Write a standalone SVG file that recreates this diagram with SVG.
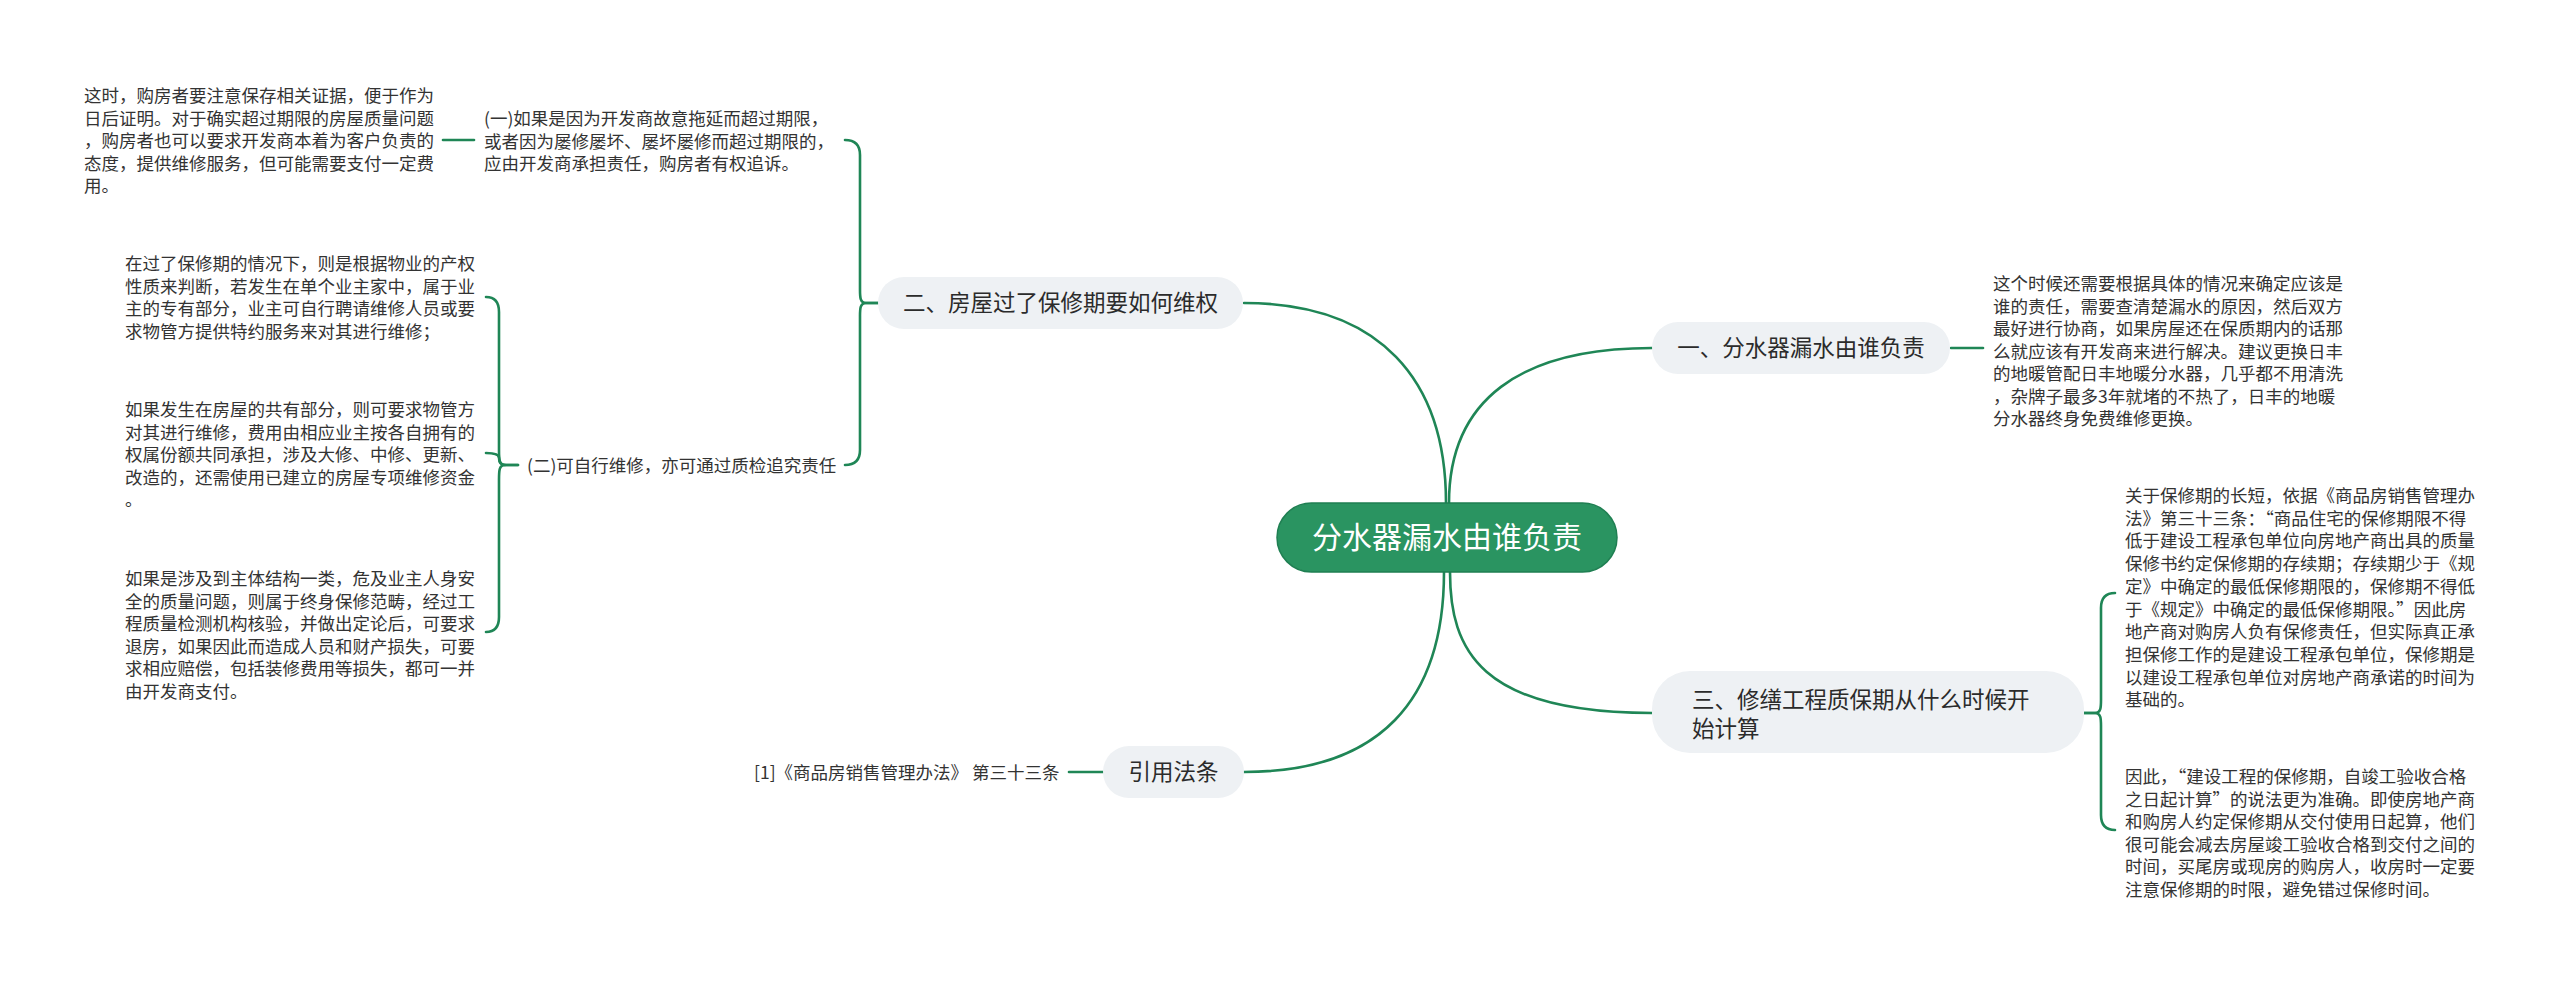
<svg xmlns="http://www.w3.org/2000/svg" width="2560" height="981" viewBox="0 0 2560 981">
<style>
text{font-family:"Noto Sans CJK SC","Noto Sans",sans-serif;fill:#333333}
.leaf{font-size:17.5px}
.branch{font-size:22.5px;fill:#2b2b2b}
.root{font-size:30px;fill:#ffffff}
.bnode{fill:#eef1f4}
.conn path{fill:none;stroke:#1f8656;stroke-width:2.6;stroke-linecap:round}
</style>
<rect width="2560" height="981" fill="#ffffff"/>
<g id="connectors" class="conn">
<path d="M1446,503 C1446,380 1380,303 1244,303"/>
<path d="M1449,503 C1449,400 1520,348 1652,348"/>
<path d="M1444,572 C1444,700 1380,772 1244,772"/>
<path d="M1450,572 C1450,650 1480,713 1652,713"/>
<path d="M1951,348 L1983,348"/>
<path d="M2084,713 L2095,713 C2101,713 2101,707 2101,700 L2101,608 C2101,598 2106,593 2115,593"/>
<path d="M2084,713 L2095,713 C2101,713 2101,719 2101,726 L2101,815 C2101,825 2106,830 2115,830"/>
<path d="M878,303 L866,303 C860,303 860,297 860,290 L860,155 C860,145 855,140 845,140"/>
<path d="M878,303 L866,303 C860,303 860,309 860,316 L860,450 C860,460 855,465 845,465"/>
<path d="M474,140 L443,140"/>
<path d="M518,465 L505,465 C499,465 499,459 499,450 L499,312 C499,302 495,297 486,297"/>
<path d="M518,465 L505,465 C499,465 499,471 499,480 L499,617 C499,627 495,632 486,632"/>
<path d="M505,465 C499,465 499,460 499,458 C499,455 495,453 486,453"/>
<path d="M1103,772 L1069,772"/>
</g>
<g id="root">
<rect x="1277" y="503" width="340" height="69" rx="34.5" fill="#2a9461" stroke="#1f7f52" stroke-width="1.5"/>
<text class="root" x="1447" y="548" text-anchor="middle">分水器漏水由谁负责</text>
</g>
<g id="b1">
<rect class="bnode" x="1652" y="322" width="298" height="52" rx="26"/>
<text class="branch" x="1801" y="356" text-anchor="middle">一、分水器漏水由谁负责</text>
</g>
<g id="b1-leaf">
<text class="leaf" x="1993" y="290"><tspan x="1993">这个时候还需要根据具体的情况来确定应该是</tspan><tspan x="1993" dy="22.5">谁的责任，需要查清楚漏水的原因，然后双方</tspan><tspan x="1993" dy="22.5">最好进行协商，如果房屋还在保质期内的话那</tspan><tspan x="1993" dy="22.5">么就应该有开发商来进行解决。建议更换日丰</tspan><tspan x="1993" dy="22.5">的地暖管配日丰地暖分水器，几乎都不用清洗</tspan><tspan x="1993" dy="22.5">，杂牌子最多3年就堵的不热了，日丰的地暖</tspan><tspan x="1993" dy="22.5">分水器终身免费维修更换。</tspan></text>
</g>
<g id="b3">
<rect class="bnode" x="1652" y="671" width="432" height="82" rx="38"/>
<text class="branch" x="1692" y="708"><tspan x="1692">三、修缮工程质保期从什么时候开</tspan><tspan x="1692" dy="28.5">始计算</tspan></text>
</g>
<g id="b3-leaf1">
<text class="leaf" x="2125" y="502"><tspan x="2125">关于保修期的长短，依据《商品房销售管理办</tspan><tspan x="2125" dy="22.7">法》第三十三条：“商品住宅的保修期限不得</tspan><tspan x="2125" dy="22.7">低于建设工程承包单位向房地产商出具的质量</tspan><tspan x="2125" dy="22.7">保修书约定保修期的存续期；存续期少于《规</tspan><tspan x="2125" dy="22.7">定》中确定的最低保修期限的，保修期不得低</tspan><tspan x="2125" dy="22.7">于《规定》中确定的最低保修期限。”因此房</tspan><tspan x="2125" dy="22.7">地产商对购房人负有保修责任，但实际真正承</tspan><tspan x="2125" dy="22.7">担保修工作的是建设工程承包单位，保修期是</tspan><tspan x="2125" dy="22.7">以建设工程承包单位对房地产商承诺的时间为</tspan><tspan x="2125" dy="22.7">基础的。</tspan></text>
</g>
<g id="b3-leaf2">
<text class="leaf" x="2125" y="783"><tspan x="2125">因此，“建设工程的保修期，自竣工验收合格</tspan><tspan x="2125" dy="22.5">之日起计算”的说法更为准确。即使房地产商</tspan><tspan x="2125" dy="22.5">和购房人约定保修期从交付使用日起算，他们</tspan><tspan x="2125" dy="22.5">很可能会减去房屋竣工验收合格到交付之间的</tspan><tspan x="2125" dy="22.5">时间，买尾房或现房的购房人，收房时一定要</tspan><tspan x="2125" dy="22.5">注意保修期的时限，避免错过保修时间。</tspan></text>
</g>
<g id="b2">
<rect class="bnode" x="878" y="277" width="365" height="52" rx="26"/>
<text class="branch" x="1060.5" y="311" text-anchor="middle">二、房屋过了保修期要如何维权</text>
</g>
<g id="b2-sub1">
<text class="leaf" x="484" y="125"><tspan x="484">(一)如果是因为开发商故意拖延而超过期限，</tspan><tspan x="484" dy="22.5">或者因为屡修屡坏、屡坏屡修而超过期限的，</tspan><tspan x="484" dy="22.5">应由开发商承担责任，购房者有权追诉。</tspan></text>
</g>
<g id="b2-sub1-leaf">
<text class="leaf" x="84" y="102"><tspan x="84">这时，购房者要注意保存相关证据，便于作为</tspan><tspan x="84" dy="22.5">日后证明。对于确实超过期限的房屋质量问题</tspan><tspan x="84" dy="22.5">，购房者也可以要求开发商本着为客户负责的</tspan><tspan x="84" dy="22.5">态度，提供维修服务，但可能需要支付一定费</tspan><tspan x="84" dy="22.5">用。</tspan></text>
</g>
<g id="b2-sub2">
<text class="leaf" x="527" y="472">(二)可自行维修，亦可通过质检追究责任</text>
</g>
<g id="b2-sub2-leafA">
<text class="leaf" x="125" y="270"><tspan x="125">在过了保修期的情况下，则是根据物业的产权</tspan><tspan x="125" dy="22.5">性质来判断，若发生在单个业主家中，属于业</tspan><tspan x="125" dy="22.5">主的专有部分，业主可自行聘请维修人员或要</tspan><tspan x="125" dy="22.5">求物管方提供特约服务来对其进行维修；</tspan></text>
</g>
<g id="b2-sub2-leafB">
<text class="leaf" x="125" y="416"><tspan x="125">如果发生在房屋的共有部分，则可要求物管方</tspan><tspan x="125" dy="22.5">对其进行维修，费用由相应业主按各自拥有的</tspan><tspan x="125" dy="22.5">权属份额共同承担，涉及大修、中修、更新、</tspan><tspan x="125" dy="22.5">改造的，还需使用已建立的房屋专项维修资金</tspan><tspan x="125" dy="22.5">。</tspan></text>
</g>
<g id="b2-sub2-leafC">
<text class="leaf" x="125" y="585"><tspan x="125">如果是涉及到主体结构一类，危及业主人身安</tspan><tspan x="125" dy="22.5">全的质量问题，则属于终身保修范畴，经过工</tspan><tspan x="125" dy="22.5">程质量检测机构核验，并做出定论后，可要求</tspan><tspan x="125" dy="22.5">退房，如果因此而造成人员和财产损失，可要</tspan><tspan x="125" dy="22.5">求相应赔偿，包括装修费用等损失，都可一并</tspan><tspan x="125" dy="22.5">由开发商支付。</tspan></text>
</g>
<g id="b4">
<rect class="bnode" x="1103" y="746" width="141" height="52" rx="26"/>
<text class="branch" x="1173.5" y="780" text-anchor="middle">引用法条</text>
</g>
<g id="b4-leaf">
<text class="leaf" x="754" y="779">[1]《商品房销售管理办法》 第三十三条</text>
</g>
</svg>
